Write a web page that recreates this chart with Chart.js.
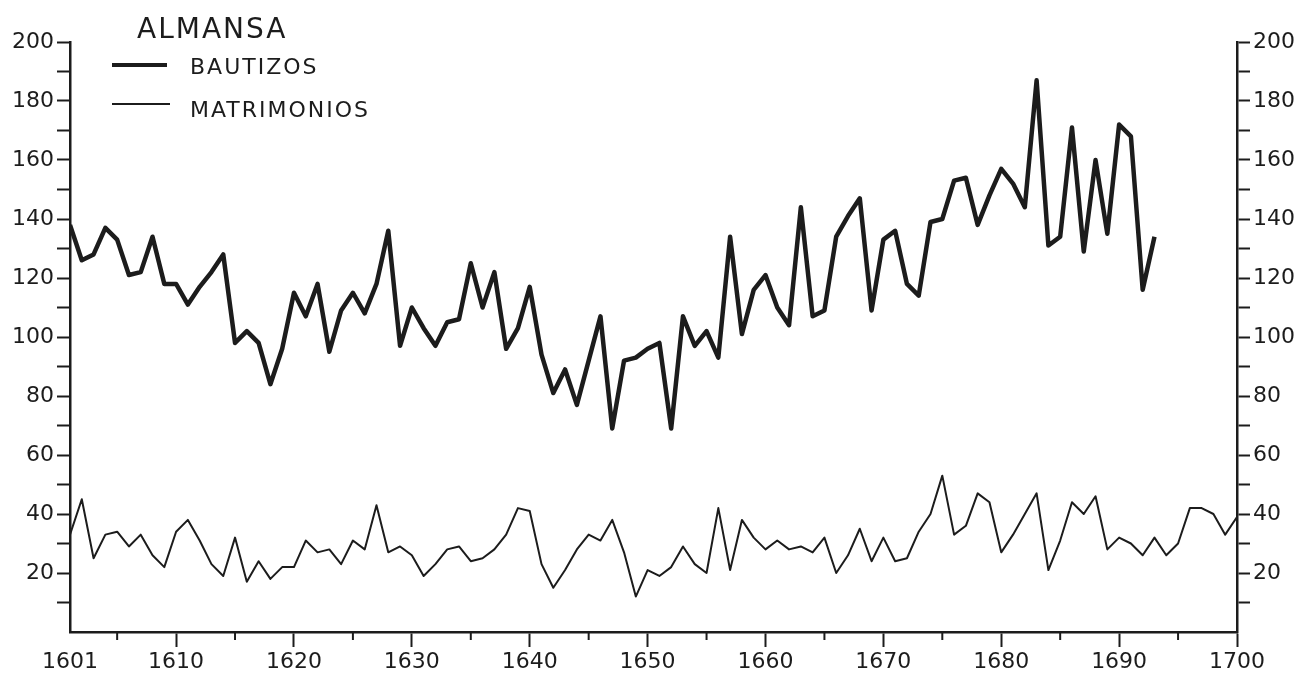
<!DOCTYPE html>
<html>
<head>
<meta charset="utf-8">
<script src="https://cdn.jsdelivr.net/npm/chart.js@4.4.1/dist/chart.umd.min.js"></script>
<style>
    html, body { margin: 0; padding: 0; background: #fff; }
    #wrap { position: relative; width: 1299px; height: 675px; }
    #chart { position: absolute; left: 0; top: 0; }
    .lbl { position: absolute; font-family: 'DejaVu Sans', sans-serif; color: #1c1c1c; line-height: 1; white-space: nowrap; }
    .title { left: 137px; top: 15px; font-size: 28px; letter-spacing: 2px; }
    .leg { left: 190px; font-size: 22px; letter-spacing: 2px; }
    .swatch { position: absolute; left: 112px; background: #1c1c1c; }
</style>
</head>
<body>
<div id="wrap">
    <canvas id="chart" width="1299" height="675"></canvas>
    <div class="lbl title">ALMANSA</div>
    <div class="swatch" style="top:63px; width:55px; height:4px;"></div>
    <div class="lbl leg" style="top:56px;">BAUTIZOS</div>
    <div class="swatch" style="top:103px; width:58px; height:2px;"></div>
    <div class="lbl leg" style="top:99px;">MATRIMONIOS</div>
</div>
<script>
// Years 1601-1700
const years = Array.from({ length: 100 }, (_, i) => 1601 + i);

// Baptisms, 1601-1693
const bautizos = [
    138, 126, 128, 137, 133, 121, 122, 134, 118, 118,
    111, 117, 122, 128, 98, 102, 98, 84, 96, 115,
    107, 118, 95, 109, 115, 108, 118, 136, 97, 110,
    103, 97, 105, 106, 125, 110, 122, 96, 103, 117,
    94, 81, 89, 77, 92, 107, 69, 92, 93, 96,
    98, 69, 107, 97, 102, 93, 134, 101, 116, 121,
    110, 104, 144, 107, 109, 134, 141, 147, 109, 133,
    136, 118, 114, 139, 140, 153, 154, 138, 148, 157,
    152, 144, 187, 131, 134, 171, 129, 160, 135, 172,
    168, 116, 134
];

// Marriages, 1601-1700
const matrimonios = [
    33, 45, 25, 33, 34, 29, 33, 26, 22, 34,
    38, 31, 23, 19, 32, 17, 24, 18, 22, 22,
    31, 27, 28, 23, 31, 28, 43, 27, 29, 26,
    19, 23, 28, 29, 24, 25, 28, 33, 42, 41,
    23, 15, 21, 28, 33, 31, 38, 27, 12, 21,
    19, 22, 29, 23, 20, 42, 21, 38, 32, 28,
    31, 28, 29, 27, 32, 20, 26, 35, 24, 32,
    24, 25, 34, 40, 53, 33, 36, 47, 44, 27,
    33, 40, 47, 21, 31, 44, 40, 46, 28, 32,
    30, 26, 32, 26, 30, 42, 42, 40, 33, 39
];

// x-axis ticks: labelled decades plus the start year, minor ticks at the half-decades
const xTickValues = [1601, 1610, 1620, 1630, 1640, 1650, 1660, 1670, 1680, 1690, 1700];
const xMinorTicks = [1605, 1615, 1625, 1635, 1645, 1655, 1665, 1675, 1685, 1695];

const INK = '#1c1c1c';
const tickFont = { family: 'DejaVu Sans', size: 22 };

// short ticks for the half-decades
const minorTicks = {
    id: 'minorTicks',
    afterDraw(chart) {
        const x = chart.scales.x;
        const ctx = chart.ctx;
        ctx.save();
        ctx.strokeStyle = INK;
        ctx.lineWidth = 2;
        xMinorTicks.forEach(v => {
            const px = x.getPixelForValue(v);
            ctx.beginPath();
            ctx.moveTo(px, x.top);
            ctx.lineTo(px, x.top + 8);
            ctx.stroke();
        });
        ctx.restore();
    }
};

function yAxis(position, width) {
    return {
        type: 'linear',
        position: position,
        min: 0,
        max: 200,
        afterFit: (scale) => { scale.width = width; },
        ticks: {
            stepSize: 10,
            color: INK,
            font: tickFont,
            padding: 3,
            callback: (v) => (v > 0 && v % 20 === 0) ? String(v) : ''
        },
        grid: {
            drawOnChartArea: false,
            drawTicks: true,
            tickLength: 13,
            tickWidth: 2,
            tickColor: (c) => c.tick && c.tick.value === 0 ? 'rgba(0,0,0,0)' : INK
        },
        border: { display: true, color: INK, width: 2.5 }
    };
}

const ctx = document.getElementById('chart').getContext('2d');
window.almansaChart = new Chart(ctx, {
    type: 'line',
    data: {
        datasets: [
            {
                label: 'BAUTIZOS',
                data: bautizos.map((v, i) => ({ x: years[i], y: v })),
                borderColor: INK,
                borderWidth: 4.5,
                pointRadius: 0,
                tension: 0,
                borderJoinStyle: 'round'
            },
            {
                label: 'MATRIMONIOS',
                data: matrimonios.map((v, i) => ({ x: years[i], y: v })),
                borderColor: INK,
                borderWidth: 2,
                pointRadius: 0,
                tension: 0,
                borderJoinStyle: 'round'
            }
        ]
    },
    options: {
        responsive: false,
        animation: false,
        devicePixelRatio: 1,
        layout: { padding: { top: 42 } },
        plugins: {
            legend: { display: false },
            tooltip: { enabled: false }
        },
        scales: {
            x: {
                type: 'linear',
                position: 'bottom',
                min: 1601,
                max: 1700,
                afterFit: (scale) => { scale.height = 43; },
                afterBuildTicks: (scale) => {
                    scale.ticks = xTickValues.map(v => ({ value: v }));
                },
                ticks: {
                    autoSkip: false,
                    maxRotation: 0,
                    color: INK,
                    font: tickFont,
                    padding: 2,
                    callback: (v) => String(v)
                },
                grid: {
                    drawOnChartArea: false,
                    drawTicks: true,
                    tickLength: 15,
                    tickWidth: 2,
                    tickColor: (c) => c.tick && c.tick.value === 1601 ? 'rgba(0,0,0,0)' : INK
                },
                border: { display: true, color: INK, width: 2.5 }
            },
            y: yAxis('left', 70),
            y2: yAxis('right', 62)
        }
    },
    plugins: [minorTicks]
});
</script>
</body>
</html>
